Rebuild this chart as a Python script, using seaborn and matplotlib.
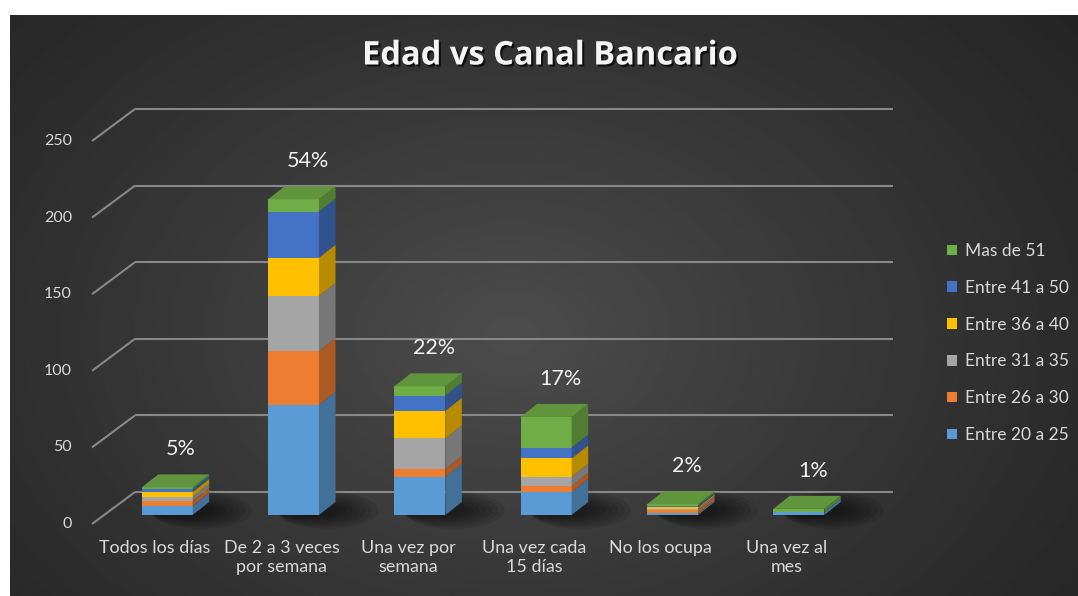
import numpy as np
import pandas as pd
import matplotlib
matplotlib.use("Agg")
import matplotlib.pyplot as plt
import seaborn as sns
from matplotlib.patches import Polygon, Patch, Ellipse
from matplotlib.transforms import ScaledTranslation
from matplotlib import patheffects as pe
import matplotlib.colors as mcolors

# ---- data -------------------------------------------------------------
categories = ["Todos los días", "De 2 a 3 veces\npor semana", "Una vez por\nsemana",
              "Una vez cada\n15 días", "No los ocupa", "Una vez al\nmes"]
age_groups = ["Entre 20 a 25", "Entre 26 a 30", "Entre 31 a 35",
              "Entre 36 a 40", "Entre 41 a 50", "Mas de 51"]
entre_20_25 = [6, 72, 25, 15, 1, 2]
entre_26_30 = [3, 35, 5, 4, 2, 0]
entre_31_35 = [3, 36, 20, 6, 1, 0]
entre_36_40 = [3, 25, 18, 12, 1, 0]
entre_41_50 = [2, 30, 10, 7, 1, 0]
mas_de_51 = [1, 8, 6, 20, 1, 2]
share_labels = ["5%", "54%", "22%", "17%", "2%", "1%"]
y_ticks = [0, 50, 100, 150, 200, 250]

series = [entre_20_25, entre_26_30, entre_31_35, entre_36_40, entre_41_50, mas_de_51]
colors = ["#5B9BD5", "#ED7D31", "#A5A5A5", "#FFC000", "#4472C4", "#70AD47"]

df = pd.DataFrame({"canal": categories})
for name, vals in zip(age_groups, series):
    df[name] = vals

# ---- figure / background ---------------------------------------------
W, H = 1078, 596
fig = plt.figure(figsize=(W / 100, H / 100), dpi=100)
fig.patch.set_facecolor("white")

bg = fig.add_axes([10 / W, 0, 1 - 10 / W, (H - 15) / H])
yy, xx = np.mgrid[0:1:300j, 0:1:500j]
r = np.sqrt(((xx - 0.47) / 0.72) ** 2 + ((yy - 0.55) / 0.95) ** 2)
shade = 0.14 + 0.16 * np.clip(1 - r, 0, 1) ** 1.2
bg.imshow(shade, cmap="gray", vmin=0, vmax=1, aspect="auto",
          extent=[0, 1, 0, 1], interpolation="bilinear")
bg.axis("off")

# plotting plane = front faces of the bars
ax = fig.add_axes([104 / W, (H - 515) / H, 758 / W, 383 / H])
ax.set_facecolor("none")

sx = 758 / 6.0      # pixels per category step
sy = 383 / 250.0    # pixels per unit
bar_w = 51 / sx
depth_dx, depth_dy = 16.5 / sx, 13 / sy     # bar depth
back_dx, back_dy = 31 / sx, 23 / sy         # back wall offset
front_dx, front_dy = -12 / sx, -9 / sy      # floor front edge offset

grid_kw = dict(color="#888888", lw=1.5, clip_on=False, zorder=1, solid_capstyle="butt")
for v in y_ticks:
    ax.plot([-0.5 + back_dx, 5.5 + back_dx], [v + back_dy] * 2, **grid_kw)
    ax.plot([-0.5 + front_dx, -0.5 + back_dx], [v + front_dy, v + back_dy], **grid_kw)

# soft shadows on the floor, cast to the right of each bar
totals = np.sum(np.array(series), axis=0)
for i in range(len(categories)):
    for k in range(7):
        ax.add_patch(Ellipse((i + 0.12 + 0.025 * k, depth_dy * 0.35),
                             bar_w + 0.10 + 0.05 * k, 9 + 2.5 * k,
                             color="black", alpha=0.09, lw=0, zorder=2, clip_on=False))


def darker(c, f):
    rgb = np.array(mcolors.to_rgb(c))
    return tuple(rgb * f)


# stacked front faces
bottom = np.zeros(len(categories))
for name, col in zip(age_groups, colors):
    sns.barplot(data=df, x="canal", y=name, order=categories, color=col,
                width=bar_w, bottom=bottom.copy(), errorbar=None, saturation=1,
                linewidth=0, zorder=4, ax=ax)
    bottom += df[name].values

# side and top faces
bottom = np.zeros(len(categories))
for name, col in zip(age_groups, colors):
    vals = df[name].values
    for i, h in enumerate(vals):
        if h <= 0:
            continue
        xr = i + bar_w / 2
        b = bottom[i]
        ax.add_patch(Polygon([(xr, b), (xr + depth_dx, b + depth_dy),
                              (xr + depth_dx, b + h + depth_dy), (xr, b + h)],
                             closed=True, facecolor=darker(col, 0.72), lw=0,
                             zorder=4, clip_on=False))
    bottom += vals

for i, t in enumerate(totals):
    top_col = colors[-1]
    for name, col in zip(age_groups[::-1], colors[::-1]):
        if df[name].values[i] > 0:
            top_col = col
            break
    xl, xr = i - bar_w / 2, i + bar_w / 2
    ax.add_patch(Polygon([(xl, t), (xl + depth_dx, t + depth_dy),
                          (xr + depth_dx, t + depth_dy), (xr, t)],
                         closed=True, facecolor=darker(top_col, 0.86), lw=0,
                         zorder=5, clip_on=False))


def shifted(dx_px, dy_px):
    return ax.transData + ScaledTranslation(dx_px / 100, -dy_px / 100, fig.dpi_scale_trans)


label_font = ["Lato", "DejaVu Sans"]

# share labels above each bar
for i, (t, lab) in enumerate(zip(totals, share_labels)):
    ax.text(i, t, lab, transform=shifted(14, -38), ha="center", va="center",
            color="#f2f2f2", fontsize=15.5, family=label_font, zorder=6)

# value axis labels along the floor front edge
for v in y_ticks:
    ax.text(-0.5 + front_dx, v + front_dy, str(v), transform=shifted(-20, 0),
            ha="right", va="center", color="#d9d9d9", fontsize=11.5, family=label_font)

# category labels
for i, c in enumerate(categories):
    ax.text(i + front_dx, front_dy, c, transform=shifted(0, 16), ha="center",
            va="top", color="#d9d9d9", fontsize=12.9, linespacing=1.25,
            family=label_font)

ax.set_xlim(-0.5, 5.5)
ax.set_ylim(0, 250)
ax.axis("off")

fig.text(550 / W, 1 - 56 / H, "Edad vs Canal Bancario", ha="center", va="center",
         color="#f4f4f4", fontsize=23.5, fontweight="bold",
         family=["Open Sans", "DejaVu Sans"],
         path_effects=[pe.withSimplePatchShadow(offset=(1.5, -1.5), shadow_rgbFace="black", alpha=0.7)])

handles = [Patch(facecolor=c, edgecolor="none", label=g)
           for g, c in zip(age_groups[::-1], colors[::-1])]
leg = fig.legend(handles=handles, loc="upper left",
                 bbox_to_anchor=(947 / W, 1 - 243 / H), frameon=False,
                 prop={"family": label_font, "size": 12.5}, labelcolor="#d9d9d9",
                 handlelength=0.55, handleheight=0.55, handletextpad=0.5,
                 labelspacing=1.2, borderpad=0, borderaxespad=0)

fig.savefig("out.png", dpi=100, facecolor=fig.get_facecolor())
